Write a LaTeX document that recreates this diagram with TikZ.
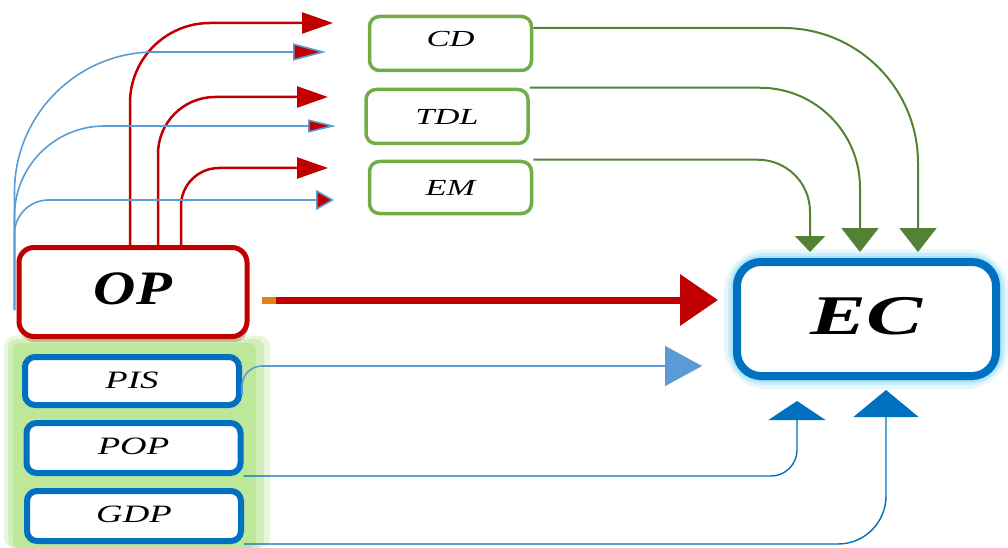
\documentclass[tikz,border=0pt]{standalone}
\usepackage{fontspec}
\setmainfont{Liberation Serif}
\usetikzlibrary{arrows.meta}
\definecolor{cred}{HTML}{C00000}
\definecolor{cblue}{HTML}{0070C0}
\definecolor{lblue}{HTML}{5B9BD5}
\definecolor{gbox}{HTML}{70AD47}
\definecolor{garr}{HTML}{548235}
\definecolor{glowb}{HTML}{9FE0FA}
\definecolor{glowg}{HTML}{A8E07A}
\newcommand{\wide}[2]{\raisebox{#1}{\scalebox{1.5}[1]{#2}}}
\newcommand{\wideb}[2]{\raisebox{#1}{\scalebox{1.47}[1]{#2}}}
\tikzset{
  smallbox/.style={draw=gbox, line width=3.5pt, rounded corners=10pt, fill=white,
    minimum width=162pt, minimum height=54pt, inner sep=0pt,
    font=\fontsize{23}{26}\selectfont\itshape},
  bluebox/.style={draw=cblue, line width=6pt, rounded corners=10pt, fill=white,
    minimum width=214pt, minimum height=48pt, inner sep=0pt,
    font=\fontsize{25}{28}\selectfont\itshape},
  redline/.style={draw=cred, line width=2.5pt, rounded corners=#1,
    -{Triangle[length=31pt,width=21pt]}},
  lbline/.style={draw=lblue, line width=1.6pt, rounded corners=#1},
  gline/.style={draw=garr, line width=2pt, rounded corners=#1},
  bline/.style={draw=cblue, line width=1.4pt, rounded corners=#1},
}
\begin{document}
\begin{tikzpicture}[x=1pt,y=-1pt]
\useasboundingbox (0,0) rectangle (1008,548);
% glows
\fill[glowg, opacity=0.25, rounded corners=10pt] (4,336) rectangle (270,548);
\fill[glowg, opacity=0.35, rounded corners=8pt] (8,339) rectangle (264,548);
\fill[glowg, opacity=0.5, rounded corners=6pt] (13,343) rectangle (256,548);
\draw[glowb, opacity=0.25, line width=26pt, rounded corners=30pt] (737,262) rectangle (996,376);
\draw[glowb, opacity=0.45, line width=18pt, rounded corners=27pt] (737,262) rectangle (996,376);
\draw[glowb, opacity=0.8, line width=12pt, rounded corners=25pt] (737,262) rectangle (996,376);
\fill[cred!60!orange!70!black, opacity=0.25, rounded corners=14pt] (20,310) rectangle (248,342);
% nodes
\node[draw=cred, line width=5pt, rounded corners=15pt, fill=white, minimum width=228pt,
  minimum height=89pt, inner sep=0pt, font=\fontsize{48}{54}\selectfont\bfseries\itshape]
  (OP) at (133,292) {\raisebox{7pt}{\scalebox{1.22}[1]{OP}}};
\node[bluebox] (PIS) at (132,381) {\wideb{1pt}{PIS}};
\node[bluebox, minimum height=50pt] (POP) at (133.5,448) {\wideb{3pt}{POP}};
\node[bluebox, minimum height=50pt] (GDP) at (134,516) {\wideb{4.5pt}{GDP}};
\node[smallbox] (CD) at (450.5,43.5) {\wide{9pt}{CD}};
\node[smallbox] (TDL) at (447,116.5) {\wide{0pt}{TDL}};
\node[smallbox, minimum height=52pt] (EM) at (450.5,187.5) {\wide{-1.5pt}{EM}};
\node[draw=cblue, line width=8pt, rounded corners=24pt, fill=white, minimum width=259pt,
  minimum height=114pt, inner sep=0pt, font=\fontsize{56}{62}\selectfont\bfseries\itshape]
  (EC) at (866.5,319) {\raisebox{5.5pt}{\scalebox{1.5}[1]{EC}}};
% coordinates for free ends
\coordinate (rCD) at (333,23);
\coordinate (rTDL) at (328,97);
\coordinate (rEM) at (328,168);
\coordinate (bCD) at (326,52);
\coordinate (bTDL) at (336,126);
\coordinate (bEM) at (334,200);
% red thin arrows from OP top
\draw[redline=80pt] ([xshift=113.5pt]OP.north west) |- (rCD);
\draw[redline=57pt] ([xshift=141.5pt]OP.north west) |- (rTDL);
\draw[redline=38pt] ([xshift=164.5pt]OP.north west) |- (rEM);
% blue thin arrows from OP left
\draw[lbline=140pt, -{Triangle[length=33pt,width=17pt,fill=cred]}] ([xshift=-2pt,yshift=-18pt]OP.west) |- (bCD);
\draw[lbline=90pt, -{Triangle[length=28pt,width=13pt,fill=cred]}] ([xshift=-2pt,yshift=-18pt]OP.west) |- (bTDL);
\draw[lbline=34pt, -{Triangle[length=18pt,width=20pt,fill=cred]}] ([xshift=-2pt,yshift=-18pt]OP.west) |- (bEM);
% big red arrow
\draw[cred, line width=7pt, -{Triangle[length=38pt,width=50pt]}]
  ([xshift=14pt,yshift=-8pt]OP.east) -- ([xshift=-15pt,yshift=19pt]EC.west);
\fill[orange!60!brown] ([xshift=12pt,yshift=-4.5pt]OP.east) rectangle ([xshift=26pt,yshift=-11.5pt]OP.east);
% green arrows
\draw[gline=135pt, -{Triangle[length=24pt,width=37pt]}] ([yshift=15.5pt]CD.east) -| ([xshift=51.5pt,yshift=6pt]EC.north);
\draw[gline=100pt, -{Triangle[length=24pt,width=37pt]}] (TDL.north east) -| ([xshift=-6.5pt,yshift=6pt]EC.north);
\draw[gline=52pt, -{Triangle[length=16pt,width=30pt]}] (EM.north east) -| ([xshift=-56.5pt,yshift=6pt]EC.north);
% blue arrows to EC
\draw[lbline=20pt, -{Triangle[length=37pt,width=40pt,fill=lblue]}] ([yshift=-14pt]PIS.east) |- ([xshift=-31pt,yshift=-47pt]EC.west);
\draw[bline=26pt, -{Triangle[length=19pt,width=57pt]}] (POP.south east) -| ([xshift=-69.5pt,yshift=-21pt]EC.south);
\draw[bline=48pt, -{Triangle[length=27pt,width=65pt]}] (GDP.south east) -| ([xshift=19.5pt,yshift=-10pt]EC.south);
\end{tikzpicture}
\end{document}
